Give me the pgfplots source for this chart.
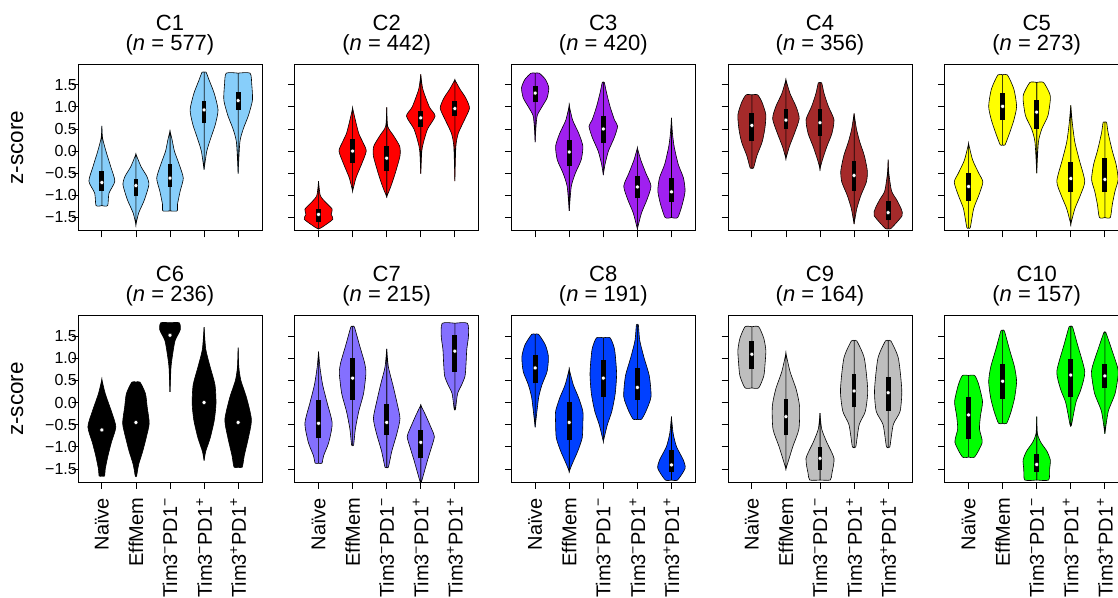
\documentclass[border=0pt]{standalone}
\usepackage{fontspec}
\setmainfont{Liberation Sans}
\usepackage{pgfplots}
\pgfplotsset{compat=1.18}

\definecolor{cA}{HTML}{87CEFA}
\definecolor{cB}{HTML}{FF0000}
\definecolor{cC}{HTML}{A020F0}
\definecolor{cD}{HTML}{A52A2A}
\definecolor{cE}{HTML}{FFFF00}
\definecolor{cF}{HTML}{000000}
\definecolor{cG}{HTML}{8470FF}
\definecolor{cH}{HTML}{0040FF}
\definecolor{cI}{HTML}{BEBEBE}
\definecolor{cJ}{HTML}{00FF00}

\newcommand{\sups}[1]{\textsuperscript{\fontsize{14}{14}\selectfont #1}}

% #1 = category position, #2 = colour, #3 = right-half outline as (half-width, z-score)
\newcommand{\violin}[3]{%
 \addplot[fill=#2, draw=black, line width=0.6pt, smooth, tension=0.4, x filter/.expression={#1+x}] coordinates {#3} -- cycle;
 \addplot[fill=#2, draw=black, line width=0.6pt, smooth, tension=0.4, x filter/.expression={#1-x}] coordinates {#3} -- cycle;
}
\newcommand{\boxes}[1]{\addplot[black, line width=4.8pt, unbounded coords=jump] coordinates {#1};}
\newcommand{\medians}[1]{\addplot[only marks, mark=*, mark size=2pt, mark options={fill=white, draw=none}] coordinates {#1};}

\pgfplotsset{
 panel/.style={
  scale only axis, width=184pt, height=166.5pt, anchor=north west,
  xmin=0.3, xmax=5.7, ymin=-1.8, ymax=1.96,
  xtick={1,2,3,4,5}, ytick={-1.5,-1,-0.5,0,0.5,1,1.5},
  xticklabels={}, yticklabels={},
  tick align=outside, xtick pos=bottom, ytick pos=left,
  major tick length=6.5pt,
  every tick/.style={black, line width=0.8pt},
  axis line style={line width=0.8pt, black},
  yticklabel style={font=\fontsize{16}{17}\selectfont, anchor=east, inner sep=0pt},
  yticklabel shift=-5.5pt,
  title style={font=\fontsize{22}{20.5}\selectfont, align=center, anchor=south, at={(0.5,1)}, yshift=3pt, inner sep=0pt},
 },
 leftcol/.style={
  yticklabels={−1.5,−1.0,−0.5,0.0,0.5,1.0,1.5},
  ylabel={z-score},
  ylabel style={font=\fontsize{22.5}{24}\selectfont, at={(axis description cs:-0.33,0.5)}, anchor=center},
 },
 bottomrow/.style={
  xticklabels={Naïve, EffMem, Tim3\sups{−}PD1\sups{−}, Tim3\sups{−}PD1\sups{+}, Tim3\sups{+}PD1\sups{+}},
  xticklabel style={font=\fontsize{20}{21}\selectfont, rotate=90, anchor=east, inner sep=0pt},
  xticklabel shift=9pt,
 },
}

\begin{document}
\begin{tikzpicture}
\useasboundingbox (0pt,0pt) rectangle (1118pt,-597pt);

% ---------------- C1
\begin{axis}[panel, leftcol, at={(78pt,-64.3pt)}, title={C1\\(\textit{n} = 577)}]
\violin{1}{cA}{(0,-1.23)(0.17,-1.23)(0.21,-0.95)(0.38,-0.68)(0.26,-0.35)(0.12,0.0)(0.02,0.3)(0,0.57)}
\violin{2}{cA}{(0,-1.66)(0.08,-1.4)(0.25,-1.1)(0.38,-0.76)(0.32,-0.57)(0.15,-0.35)(0,-0.07)}
\violin{3}{cA}{(0,-1.35)(0.21,-1.35)(0.22,-1.2)(0.3,-0.9)(0.39,-0.61)(0.27,-0.3)(0.13,0.0)(0.05,0.3)(0,0.44)}
\violin{4}{cA}{(0,-0.42)(0.08,0.0)(0.2,0.3)(0.33,0.6)(0.41,0.93)(0.3,1.3)(0.15,1.6)(0.06,1.78)(0,1.78)}
\violin{5}{cA}{(0,-0.51)(0.05,0.2)(0.15,0.5)(0.3,0.8)(0.42,1.15)(0.4,1.5)(0.35,1.76)(0,1.76)}
\boxes{(1,-0.89)(1,-0.44)(1,nan)(2,-1.02)(2,-0.63)(2,nan)(3,-0.8)(3,-0.29)(3,nan)(4,0.63)(4,1.13)(4,nan)(5,0.93)(5,1.33)}
\medians{(1,-0.71)(2,-0.78)(3,-0.61)(4,0.93)(5,1.14)}
\end{axis}

% ---------------- C2
\begin{axis}[panel, at={(294.7pt,-64.3pt)}, title={C2\\(\textit{n} = 442)}]
\violin{1}{cB}{(0,-1.76)(0.1,-1.72)(0.42,-1.54)(0.37,-1.43)(0.4,-1.31)(0.2,-1.15)(0.05,-1.0)(0,-0.68)}
\violin{2}{cB}{(0,-0.9)(0.1,-0.6)(0.26,-0.3)(0.4,0.0)(0.3,0.2)(0.18,0.4)(0.08,0.7)(0,0.97)}
\violin{3}{cB}{(0,-1.03)(0.12,-0.8)(0.25,-0.5)(0.39,-0.11)(0.38,0.11)(0.2,0.35)(0.03,0.56)(0,0.99)}
\violin{4}{cB}{(0,-0.51)(0.03,0.0)(0.08,0.2)(0.2,0.5)(0.42,0.79)(0.25,1.0)(0.06,1.4)(0,1.73)}
\violin{5}{cB}{(0,-0.68)(0.03,0.1)(0.1,0.4)(0.28,0.7)(0.43,0.97)(0.32,1.2)(0.15,1.4)(0,1.61)}
\boxes{(1,-1.6)(1,-1.3)(1,nan)(2,-0.26)(2,0.28)(2,nan)(3,-0.45)(3,0.11)(3,nan)(4,0.54)(4,0.91)(4,nan)(5,0.79)(5,1.14)}
\medians{(1,-1.43)(2,0.0)(3,-0.16)(4,0.75)(5,0.96)}
\end{axis}

% ---------------- C3
\begin{axis}[panel, at={(511.3pt,-64.3pt)}, title={C3\\(\textit{n} = 420)}]
\violin{1}{cC}{(0,0.2)(0.02,0.5)(0.06,0.8)(0.2,1.0)(0.35,1.2)(0.4,1.43)(0.3,1.62)(0.12,1.76)(0,1.76)}
\violin{2}{cC}{(0,-1.35)(0.06,-0.8)(0.18,-0.5)(0.35,-0.2)(0.4,0.11)(0.28,0.4)(0.1,0.7)(0,1.03)}
\violin{3}{cC}{(0,-0.54)(0.05,-0.3)(0.15,0.0)(0.32,0.3)(0.42,0.56)(0.33,0.7)(0.2,1.0)(0.1,1.3)(0.03,1.55)(0,1.55)}
\violin{4}{cC}{(0,-1.76)(0.12,-1.4)(0.28,-1.1)(0.4,-0.79)(0.25,-0.5)(0.1,-0.2)(0,0.07)}
\violin{5}{cC}{(0,-1.5)(0.185,-1.5)(0.32,-1.2)(0.4,-0.9)(0.35,-0.6)(0.2,-0.3)(0.08,0.1)(0.03,0.4)(0,0.75)}
\boxes{(1,1.1)(1,1.48)(1,nan)(2,-0.34)(2,0.26)(2,nan)(3,0.19)(3,0.79)(3,nan)(4,-1.07)(4,-0.56)(4,nan)(5,-1.15)(5,-0.6)}
\medians{(1,1.31)(2,-0.02)(3,0.5)(4,-0.81)(5,-0.92)}
\end{axis}

% ---------------- C4
\begin{axis}[panel, at={(728pt,-64.3pt)}, title={C4\\(\textit{n} = 356)}]
\violin{1}{cD}{(0,-0.38)(0.05,-0.38)(0.15,-0.1)(0.3,0.2)(0.38,0.5)(0.41,0.82)(0.3,1.1)(0.17,1.27)(0,1.27)}
\violin{2}{cD}{(0,-0.17)(0.1,0.1)(0.25,0.4)(0.39,0.73)(0.3,1.0)(0.12,1.3)(0,1.61)}
\violin{3}{cD}{(0,-0.4)(0.07,-0.2)(0.2,0.1)(0.35,0.4)(0.41,0.71)(0.25,1.0)(0.12,1.3)(0.05,1.54)(0,1.54)}
\violin{4}{cD}{(0,-1.65)(0.08,-1.3)(0.2,-1.0)(0.36,-0.7)(0.39,-0.45)(0.3,-0.1)(0.17,0.2)(0.07,0.5)(0,0.85)}
\violin{5}{cD}{(0,-1.75)(0.08,-1.75)(0.41,-1.46)(0.38,-1.3)(0.25,-1.1)(0.1,-0.9)(0.02,-0.5)(0,-0.19)}
\boxes{(1,0.22)(1,0.86)(1,nan)(2,0.49)(2,0.95)(2,nan)(3,0.35)(3,0.94)(3,nan)(4,-0.9)(4,-0.23)(4,nan)(5,-1.56)(5,-1.13)}
\medians{(1,0.58)(2,0.7)(3,0.64)(4,-0.55)(5,-1.39)}
\end{axis}

% ---------------- C5
\begin{axis}[panel, at={(944.7pt,-64.3pt)}, title={C5\\(\textit{n} = 273)}]
\violin{1}{cE}{(0,-1.73)(0.05,-1.73)(0.15,-1.3)(0.3,-1.0)(0.42,-0.7)(0.3,-0.5)(0.12,-0.2)(0,0.17)}
\violin{2}{cE}{(0,0.14)(0.07,0.14)(0.2,0.4)(0.33,0.7)(0.41,1.01)(0.33,1.4)(0.14,1.72)(0,1.72)}
\violin{3}{cE}{(0,-0.5)(0.05,0.2)(0.15,0.5)(0.33,0.8)(0.4,1.16)(0.38,1.3)(0.2,1.55)(0,1.55)}
\violin{4}{cE}{(0,-1.65)(0.12,-1.3)(0.28,-1.0)(0.41,-0.68)(0.25,-0.2)(0.12,0.2)(0.05,0.6)(0,1.03)}
\violin{5}{cE}{(0,-1.5)(0.16,-1.5)(0.22,-1.2)(0.3,-0.9)(0.39,-0.64)(0.33,-0.3)(0.22,0.0)(0.1,0.4)(0.05,0.65)(0,0.65)}
\boxes{(1,-1.13)(1,-0.49)(1,nan)(2,0.7)(2,1.31)(2,nan)(3,0.5)(3,1.16)(3,nan)(4,-0.92)(4,-0.24)(4,nan)(5,-0.92)(5,-0.15)}
\medians{(1,-0.8)(2,1.01)(3,0.88)(4,-0.62)(5,-0.64)}
\end{axis}

% ---------------- C6
\begin{axis}[panel, leftcol, bottomrow, at={(78pt,-315.7pt)}, title={C6\\(\textit{n} = 236)}]
\violin{1}{cF}{(0,-1.66)(0.08,-1.66)(0.1,-1.5)(0.18,-1.2)(0.28,-0.9)(0.41,-0.55)(0.28,-0.2)(0.1,0.2)(0,0.52)}
\violin{2}{cF}{(0,-1.66)(0.02,-1.66)(0.08,-1.4)(0.2,-1.1)(0.3,-0.8)(0.39,-0.47)(0.33,-0.1)(0.28,0.2)(0.12,0.46)(0,0.46)}
\violin{3}{cF}{(0,0.24)(0.03,0.8)(0.08,1.1)(0.15,1.4)(0.3,1.64)(0.27,1.8)(0,1.8)}
\violin{4}{cF}{(0,-1.31)(0.05,-1.1)(0.18,-0.8)(0.3,-0.4)(0.35,-0.02)(0.32,0.4)(0.18,0.8)(0.05,1.2)(0,1.7)}
\violin{5}{cF}{(0,-1.46)(0.12,-1.46)(0.18,-1.2)(0.3,-0.8)(0.39,-0.39)(0.25,0.1)(0.08,0.5)(0.02,0.8)(0,1.24)}
\medians{(1,-0.62)(2,-0.45)(3,1.52)(4,0.0)(5,-0.45)}
\end{axis}

% ---------------- C7
\begin{axis}[panel, bottomrow, at={(294.7pt,-315.7pt)}, title={C7\\(\textit{n} = 215)}]
\violin{1}{cG}{(0,-1.37)(0.1,-1.37)(0.15,-1.2)(0.3,-0.9)(0.4,-0.47)(0.25,0.0)(0.12,0.4)(0.04,0.8)(0,1.15)}
\violin{2}{cG}{(0,-0.96)(0.03,-0.96)(0.08,-0.6)(0.18,-0.2)(0.32,0.2)(0.39,0.66)(0.35,0.9)(0.2,1.3)(0.05,1.71)(0,1.71)}
\violin{3}{cG}{(0,-1.46)(0.05,-1.46)(0.15,-1.1)(0.3,-0.7)(0.39,-0.36)(0.3,0.0)(0.18,0.4)(0.05,0.8)(0,1.21)}
\violin{4}{cG}{(0,-1.79)(0.02,-1.79)(0.2,-1.3)(0.32,-1.0)(0.4,-0.77)(0.32,-0.6)(0.15,-0.3)(0,-0.06)}
\violin{5}{cG}{(0,-0.15)(0.02,-0.15)(0.08,0.2)(0.2,0.4)(0.3,0.6)(0.33,0.9)(0.35,1.2)(0.4,1.5)(0.37,1.79)(0,1.79)}
\boxes{(1,-0.81)(1,0.06)(1,nan)(2,0.06)(2,1.0)(2,nan)(3,-0.73)(3,-0.04)(3,nan)(4,-1.26)(4,-0.62)(4,nan)(5,0.7)(5,1.52)}
\medians{(1,-0.47)(2,0.55)(3,-0.45)(4,-0.9)(5,1.16)}
\end{axis}

% ---------------- C8
\begin{axis}[panel, bottomrow, at={(511.3pt,-315.7pt)}, title={C8\\(\textit{n} = 191)}]
\violin{1}{cH}{(0,-0.56)(0.1,0.1)(0.2,0.4)(0.35,0.7)(0.39,1.03)(0.3,1.3)(0.1,1.54)(0,1.54)}
\violin{2}{cH}{(0,-1.56)(0.08,-1.4)(0.25,-1.1)(0.38,-0.8)(0.4,-0.47)(0.4,-0.2)(0.28,0.1)(0.12,0.4)(0,0.75)}
\violin{3}{cH}{(0,-0.88)(0.12,-0.5)(0.25,-0.2)(0.35,0.2)(0.39,0.66)(0.33,1.2)(0.2,1.46)(0,1.46)}
\violin{4}{cH}{(0,-0.38)(0.12,-0.38)(0.25,-0.2)(0.4,0.13)(0.35,0.6)(0.2,1.0)(0.07,1.4)(0.03,1.75)(0,1.75)}
\violin{5}{cH}{(0,-1.75)(0.18,-1.75)(0.4,-1.49)(0.35,-1.3)(0.15,-1.0)(0.05,-0.7)(0,-0.32)}
\boxes{(1,0.43)(1,1.07)(1,nan)(2,-0.85)(2,0.02)(2,nan)(3,0.13)(3,0.96)(3,nan)(4,0.06)(4,0.77)(4,nan)(5,-1.56)(5,-1.07)}
\medians{(1,0.78)(2,-0.45)(3,0.55)(4,0.34)(5,-1.41)}
\end{axis}

% ---------------- C9
\begin{axis}[panel, bottomrow, at={(728pt,-315.7pt)}, title={C9\\(\textit{n} = 164)}]
\violin{1}{cI}{(0,0.33)(0.2,0.33)(0.35,0.6)(0.39,0.9)(0.41,1.18)(0.35,1.45)(0.2,1.71)(0,1.71)}
\violin{2}{cI}{(0,-1.5)(0.2,-1.0)(0.38,-0.6)(0.4,-0.09)(0.3,0.3)(0.12,0.7)(0,1.11)}
\violin{3}{cI}{(0,-1.75)(0.3,-1.75)(0.35,-1.6)(0.41,-1.26)(0.2,-0.9)(0.05,-0.6)(0,-0.24)}
\violin{4}{cI}{(0,-1.0)(0.05,-1.0)(0.15,-0.5)(0.33,-0.2)(0.4,0.28)(0.3,1.0)(0.08,1.39)(0,1.39)}
\violin{5}{cI}{(0,-1.0)(0.05,-1.0)(0.15,-0.5)(0.35,-0.2)(0.4,0.28)(0.3,1.0)(0.08,1.39)(0,1.39)}
\boxes{(1,0.75)(1,1.39)(1,nan)(2,-0.74)(2,0.08)(2,nan)(3,-1.52)(3,-1.0)(3,nan)(4,-0.11)(4,0.64)(4,nan)(5,-0.19)(5,0.58)}
\medians{(1,1.09)(2,-0.32)(3,-1.26)(4,0.26)(5,0.22)}
\end{axis}

% ---------------- C10
\begin{axis}[panel, bottomrow, at={(944.7pt,-315.7pt)}, title={C10\\(\textit{n} = 157)}]
\violin{1}{cJ}{(0,-1.23)(0.18,-1.23)(0.4,-0.9)(0.32,-0.6)(0.35,-0.3)(0.41,0.02)(0.3,0.4)(0.18,0.61)(0,0.61)}
\violin{2}{cJ}{(0,-0.47)(0.12,-0.47)(0.25,-0.2)(0.35,0.1)(0.41,0.47)(0.35,0.8)(0.2,1.2)(0.05,1.62)(0,1.62)}
\violin{3}{cJ}{(0,-1.75)(0.35,-1.75)(0.38,-1.5)(0.4,-1.3)(0.3,-1.1)(0.12,-0.9)(0.02,-0.7)(0,-0.32)}
\violin{4}{cJ}{(0,-0.51)(0.02,-0.51)(0.15,0.0)(0.3,0.3)(0.41,0.7)(0.2,1.3)(0.05,1.71)(0,1.71)}
\violin{5}{cJ}{(0,-0.71)(0.1,-0.2)(0.3,0.2)(0.39,0.62)(0.37,0.8)(0.2,1.2)(0.03,1.58)(0,1.58)}
\boxes{(1,-0.82)(1,0.13)(1,nan)(2,0.09)(2,0.88)(2,nan)(3,-1.56)(3,-1.16)(3,nan)(4,0.13)(4,0.98)(4,nan)(5,0.32)(5,0.88)}
\medians{(1,-0.28)(2,0.48)(3,-1.4)(4,0.62)(5,0.6)}
\end{axis}
\end{tikzpicture}
\end{document}
